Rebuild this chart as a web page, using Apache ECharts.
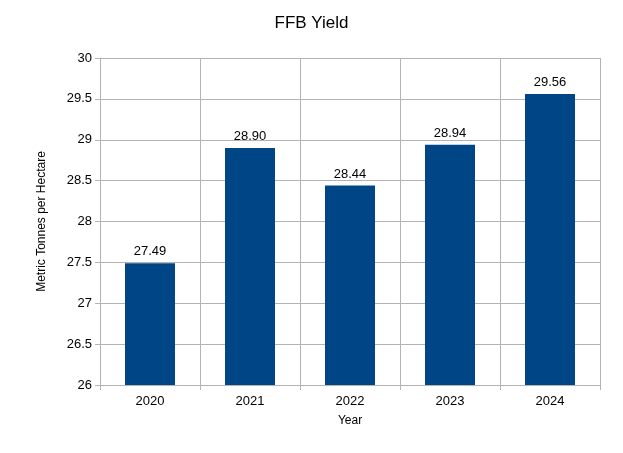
<!DOCTYPE html>
<html><head><meta charset="utf-8">
<script src="https://cdn.jsdelivr.net/npm/echarts@6/dist/echarts.min.js"></script>
<style>html,body{margin:0;padding:0;background:#fff}#c{width:623px;height:453px}</style>
</head><body><div id="c"></div>
<script>
const categories = ['2020','2021','2022','2023','2024'];
const yieldValues = [27.49, 28.90, 28.44, 28.94, 29.56];
const chart = echarts.init(document.getElementById('c'));
chart.setOption({
  backgroundColor:'#fff',
  title:{text:'FFB Yield',left:'center',top:10,textStyle:{fontFamily:'Liberation Sans',fontWeight:'normal',fontSize:17,color:'#000'}},
  grid:{left:100,right:23,top:58,bottom:68},
  xAxis:{type:'category',data:categories,name:'Year',nameLocation:'middle',nameGap:30,
    nameTextStyle:{fontFamily:'Liberation Sans',fontSize:12,color:'#000'},
    axisLine:{lineStyle:{color:'#b3b3b3'}},axisTick:{show:true,alignWithLabel:false,lineStyle:{color:'#b3b3b3'}},
    axisLabel:{fontFamily:'Liberation Sans',fontSize:13,color:'#000',margin:10},
    splitLine:{show:true,lineStyle:{color:'#b3b3b3'}}},
  yAxis:{type:'value',min:26,max:30,interval:0.5,name:'Metric Tonnes per Hectare',nameLocation:'middle',nameGap:52,
    nameTextStyle:{fontFamily:'Liberation Sans',fontSize:12,color:'#000'},
    axisLine:{show:true,lineStyle:{color:'#b3b3b3'}},axisTick:{show:true,lineStyle:{color:'#b3b3b3'}},
    axisLabel:{fontFamily:'Liberation Sans',fontSize:13,color:'#000',margin:8},
    splitLine:{lineStyle:{color:'#b3b3b3'}}},
  series:[{type:'bar',data:yieldValues,barWidth:'50%',itemStyle:{color:'#004586'},
    label:{show:true,position:'top',formatter:p=>p.value.toFixed(2),fontFamily:'Liberation Sans',fontSize:13,color:'#000'}}]
});
</script></body></html>
